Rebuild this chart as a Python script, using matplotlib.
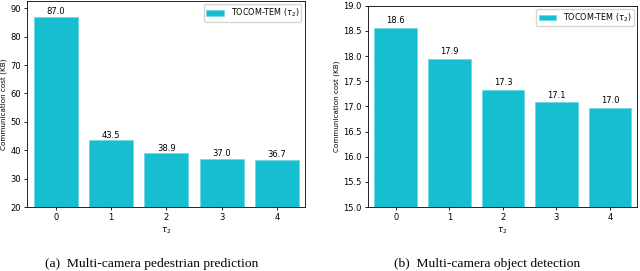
import matplotlib
matplotlib.use("Agg")
import matplotlib.pyplot as plt

categories = ["0", "1", "2", "3", "4"]
ped_values = [87.0, 43.5, 38.9, 37.0, 36.7]
obj_values = [18.56, 17.94, 17.33, 17.08, 16.97]
ped_labels = ["87.0", "43.5", "38.9", "37.0", "36.7"]
obj_labels = ["18.6", "17.9", "17.3", "17.1", "17.0"]
ped_yticks = [20, 30, 40, 50, 60, 70, 80, 90]
obj_yticks = [15.0, 15.5, 16.0, 16.5, 17.0, 17.5, 18.0, 18.5, 19.0]
legend_label = r"TOCOM-TEM ($\tau_2$)"
captions = ["(a)  Multi-camera pedestrian prediction", "(b)  Multi-camera object detection"]

color = "#17becf"
fig = plt.figure(figsize=(6.4, 2.71), dpi=100)
ax1 = fig.add_axes([0.042, 0.236, 0.434, 0.760])
ax2 = fig.add_axes([0.575, 0.236, 0.420, 0.743])

def draw(ax, vals, labels, yticks, ylim, fmt, gap):
    x = list(range(len(categories)))
    ax.bar(x, vals, width=0.8, color=color, edgecolor="#6fd8e4", linewidth=0.6, label=legend_label)
    for xi, v, lab in zip(x, vals, labels):
        ax.annotate(lab, (xi, v), xytext=(0, gap), textcoords="offset points",
                    ha="center", va="bottom", fontsize=6)
    ax.set_xticks(x)
    ax.set_xticklabels(categories)
    ax.set_yticks(yticks)
    ax.set_yticklabels([fmt.format(t) for t in yticks])
    ax.set_ylim(*ylim)
    ax.set_xlim(-0.52, 4.5)
    ax.tick_params(labelsize=6, length=2.5, width=0.6, pad=2)
    ax.set_ylabel("Communication cost (KB)", fontsize=5.2, labelpad=2)
    ax.set_xlabel(r"$\tau_2$", fontsize=6, labelpad=2)
    for s in ax.spines.values():
        s.set_linewidth(0.6)
    ax.legend(loc="upper right", fontsize=5.8, frameon=True, handlelength=2.2,
              borderpad=0.3, fancybox=True, framealpha=0.8, borderaxespad=0.4)

draw(ax1, ped_values, ped_labels, ped_yticks, (20, 92.5), "{:.0f}", 0.3)
draw(ax2, obj_values, obj_labels, obj_yticks, (15.0, 19.0), "{:.1f}", 2.0)

fig.text(0.237, 0.026, captions[0], ha="center", va="center", fontsize=9.7, family="Liberation Serif")
fig.text(0.761, 0.026, captions[1], ha="center", va="center", fontsize=9.7, family="Liberation Serif")

fig.savefig("out.png", dpi=100)
